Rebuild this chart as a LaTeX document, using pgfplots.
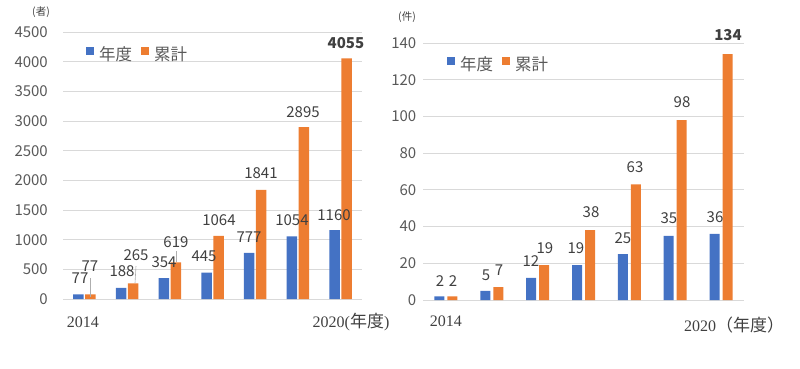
\documentclass[border=0pt]{standalone}
\usepackage{pgfplots}
\pgfplotsset{compat=1.18}
\usepackage{fontspec}
\setmainfont{Noto Sans CJK JP}
\newfontfamily\yearfont{Liberation Serif}
\definecolor{xblue}{HTML}{4472C4}
\definecolor{xorange}{HTML}{ED7D31}
\definecolor{gridc}{HTML}{D9D9D9}
\definecolor{tickc}{HTML}{595959}
\definecolor{labc}{HTML}{404040}
\tikzset{
  lab/.style={font=\fontsize{15}{15}\selectfont, text=labc, inner sep=0pt},
  yr/.style={font=\fontsize{17}{17}\selectfont, text=labc, inner sep=0pt},
  lead/.style={draw=gridc!80!black, line width=0.6pt},
}
\newcommand{\yf}[1]{{\yearfont\fontsize{16}{16}\selectfont #1}}
\pgfplotsset{
  myax/.style={
    scale only axis, ybar,
    axis line style={draw=none},
    ymajorgrids, grid style={gridc, line width=0.8pt},
    major tick length=0pt, xtick=\empty,
    xmin=-0.5, xmax=6.5, ymin=0, clip=false,
    tick label style={font=\fontsize{15}{15}\selectfont, text=tickc},
    yticklabel style={anchor=east, inner sep=0pt},
    /pgf/number format/assume math mode=true,
    /pgf/number format/1000 sep={},
    legend columns=2,
    legend image code/.code={\fill[##1] (0pt,-1pt) rectangle (8pt,7pt);},
    legend style={draw=none, fill=none, inner sep=0pt,
      font=\fontsize{16.5}{16.5}\selectfont, text=tickc,
      nodes={inner sep=2.5pt},
      /tikz/every even column/.append style={column sep=6pt}},
  },
}
\begin{document}
\begin{tikzpicture}
\useasboundingbox (0,0) rectangle (800pt,368pt);
% ---------------- left panel ----------------
\begin{axis}[myax, at={(63pt,69pt)}, anchor=south west,
  width=299pt, height=267pt, ymax=4500, ytick distance=500,
  yticklabel style={xshift=-15pt},
  legend style={at={(rel axis cs:0.075,0.918)}, anchor=west}]
\addplot[fill=xblue, draw=none, bar width=10.5pt, bar shift=-6pt]
  coordinates {(0,77) (1,188) (2,354) (3,445) (4,777) (5,1054) (6,1160)};
\addplot[fill=xorange, draw=none, bar width=10.5pt, bar shift=6pt]
  coordinates {(0,77) (1,265) (2,619) (3,1064) (4,1841) (5,2895) (6,4055)};
\legend{\hspace{3pt}年度,\hspace{3pt}累計}
\node[lab] at (axis cs:-0.102,354) {77};
\node[lab] at (axis cs:0.132,556) {77};
\node[lab] at (axis cs:0.881,472) {188};
\node[lab] at (axis cs:1.209,742) {265};
\node[lab] at (axis cs:1.865,624) {354};
\node[lab] at (axis cs:2.145,961) {619};
\node[lab] at (axis cs:2.801,725) {445};
\node[lab] at (axis cs:3.152,1331) {1064};
\node[lab] at (axis cs:3.855,1045) {777};
\node[lab] at (axis cs:4.135,2124) {1841};
\node[lab] at (axis cs:4.861,1331) {1054};
\node[lab] at (axis cs:5.119,3152) {2895};
\node[lab] at (axis cs:5.845,1416) {1160};
\node[lab, font=\fontsize{15}{15}\selectfont\bfseries] at (axis cs:6.125,4315) {4055};
\draw[lead] (axis cs:0.148,354) -- (axis cs:0.148,34);
\draw[lead] (axis cs:1.209,556) -- (axis cs:1.186,270);
\draw[lead] (axis cs:2.145,809) -- (axis cs:2.145,624);
\node[font=\fontsize{10.5}{10.5}\selectfont, text=labc, inner sep=0pt] at (axis cs:-1.015,4837) {(者)};
\node[yr] at (axis cs:-0.032,-388) {\yf{2014}};
\node[yr] at (axis cs:6.243,-388) {\yf{2020(}年度\yf{)}};
\end{axis}
% ---------------- right panel ----------------
\begin{axis}[myax, at={(423pt,68pt)}, anchor=south west,
  width=321pt, height=257pt, ymax=140, ytick distance=20,
  yticklabel style={xshift=-6.5pt},
  legend style={at={(rel axis cs:0.073,0.918)}, anchor=west}]
\addplot[fill=xblue, draw=none, bar width=10pt, bar shift=-6.5pt]
  coordinates {(0,2) (1,5) (2,12) (3,19) (4,25) (5,35) (6,36)};
\addplot[fill=xorange, draw=none, bar width=10pt, bar shift=6.5pt]
  coordinates {(0,2) (1,7) (2,19) (3,38) (4,63) (5,98) (6,134)};
\legend{\hspace{3pt}年度,\hspace{3pt}累計}
\node[lab] at (axis cs:-0.129,10.35) {2};
\node[lab] at (axis cs:0.154,10.35) {2};
\node[lab] at (axis cs:0.874,13.6) {5};
\node[lab] at (axis cs:1.157,16.3) {7};
\node[lab] at (axis cs:1.855,21.2) {12};
\node[lab] at (axis cs:2.160,28.3) {19};
\node[lab] at (axis cs:2.836,28.3) {19};
\node[lab] at (axis cs:3.164,47.9) {38};
\node[lab] at (axis cs:3.861,33.8) {25};
\node[lab] at (axis cs:4.123,72.4) {63};
\node[lab] at (axis cs:4.864,44.7) {35};
\node[lab] at (axis cs:5.148,107.9) {98};
\node[lab] at (axis cs:5.868,45.2) {36};
\node[lab, font=\fontsize{15}{15}\selectfont\bfseries] at (axis cs:6.151,144.3) {134};
\node[font=\fontsize{10.5}{10.5}\selectfont, text=labc, inner sep=0pt] at (axis cs:-0.849,154.2) {(件)};
\node[yr] at (axis cs:0.0,-11.4) {\yf{2014}};
\node[yr] at (axis cs:6.282,-13.6) {\yf{2020}（年度）};
\end{axis}
\end{tikzpicture}
\end{document}
